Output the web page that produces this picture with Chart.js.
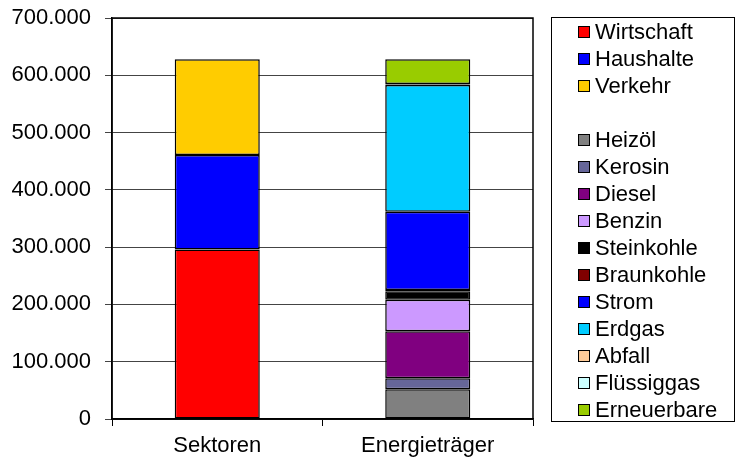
<!DOCTYPE html>
<html>
<head>
<meta charset="utf-8">
<script src="https://cdn.jsdelivr.net/npm/chart.js@4.4.1/dist/chart.umd.min.js"></script>
<style>
  body { margin: 0; background: #fff; }
  #wrap { position: relative; width: 736px; height: 462px; }
  #legend {
    position: absolute; left: 551px; top: 17px; width: 184px; height: 405px;
    border: 1px solid #000; box-sizing: border-box;
    font-family: "Liberation Sans", Arial, sans-serif; font-size: 22px; color: #000;
  }
  .row { position: absolute; left: 0; height: 27px; display: flex; align-items: center; }
  .sw { width: 10px; height: 10px; border: 1.5px solid #000; margin-left: 26px; margin-right: 5px; }
</style>
</head>
<body>
<div id="wrap">
  <canvas id="chart" width="736" height="462"></canvas>
  <div id="legend"></div>
</div>
<script>
var categories = ["Sektoren", "Energieträger"]

var sectorLabels = ["Wirtschaft", "Haushalte", "Verkehr"]
var sectorValues = [296000, 165000, 167000]
var sectorColors = ["#ff0000", "#0000ff", "#ffcc00"]

var carrierLabels = ["Heizöl", "Kerosin", "Diesel", "Benzin", "Steinkohle", "Braunkohle",
                     "Strom", "Erdgas", "Abfall", "Flüssiggas", "Erneuerbare"]
var carrierValues = [52000, 19000, 82000, 55000, 15000, 2000, 137000, 221000, 1000, 1000, 43000]
var carrierColors = ["#808080", "#666699", "#800080", "#cc99ff", "#000000", "#800000",
                     "#0000ff", "#00ccff", "#ffcc99", "#ccffff", "#99cc00"]

var yTicks = [0, 100000, 200000, 300000, 400000, 500000, 600000, 700000]

var datasets = []
for (var i = 0; i < sectorLabels.length; i++) {
    datasets.push({ label: sectorLabels[i], data: [sectorValues[i], null], backgroundColor: sectorColors[i] })
}
for (var j = 0; j < carrierLabels.length; j++) {
    datasets.push({ label: carrierLabels[j], data: [null, carrierValues[j]], backgroundColor: carrierColors[j] })
}
datasets.forEach(function (d) {
    d.borderColor = "#000"
    d.borderWidth = 1.5
    d.borderSkipped = false
})

function formatDe(v) {
    return String(v).replace(/\B(?=(\d{3})+(?!\d))/g, ".")
}

// frame round the plot area
var frame = {
    id: "frame",
    afterDraw: function (chart) {
        var a = chart.chartArea, ctx = chart.ctx
        ctx.save()
        ctx.strokeStyle = "#000"
        ctx.lineWidth = 1.5
        ctx.strokeRect(a.left, a.top, a.right - a.left, a.bottom - a.top)
        ctx.restore()
    }
}

var font = { family: "'Liberation Sans', Arial, sans-serif", size: 22 }

new Chart("chart", {
    type: "bar",
    data: { labels: categories, datasets: datasets },
    options: {
        responsive: false,
        animation: false,
        layout: { padding: { top: 18, right: 203, left: 0, bottom: 0 } },
        datasets: { bar: { categoryPercentage: 1, barPercentage: 0.404 } },
        plugins: { legend: { display: false }, tooltip: { enabled: false } },
        scales: {
            x: {
                stacked: true,
                afterFit: function (s) { s.height = 43; s.paddingLeft = 0; s.paddingRight = 0 },
                grid: { offset: true, drawOnChartArea: false, color: "#000", tickLength: 7 },
                border: { color: "#000", width: 1.5 },
                ticks: { color: "#000", font: font, padding: 7 }
            },
            y: {
                stacked: true,
                min: 0, max: 700000,
                afterFit: function (s) { s.width = 112; s.paddingTop = 0; s.paddingBottom = 0 },
                afterBuildTicks: function (s) { s.ticks = yTicks.map(function (v) { return { value: v } }) },
                grid: { color: "#444", lineWidth: 1, tickLength: 7 },
                border: { color: "#000", width: 1.5 },
                ticks: { color: "#000", font: font, padding: 14, callback: function (v) { return formatDe(v) } }
            }
        }
    },
    plugins: [frame]
})

// legend: sectors, blank row, energy carriers
var legendItems = []
sectorLabels.forEach(function (l, i) { legendItems.push([l, sectorColors[i]]) })
legendItems.push(null)
carrierLabels.forEach(function (l, i) { legendItems.push([l, carrierColors[i]]) })

var legend = document.getElementById("legend")
legendItems.forEach(function (item, k) {
    if (!item) return
    var row = document.createElement("div")
    row.className = "row"
    row.style.top = (27 * k) + "px"
    var sw = document.createElement("span")
    sw.className = "sw"
    sw.style.background = item[1]
    var tx = document.createElement("span")
    tx.textContent = item[0]
    row.appendChild(sw)
    row.appendChild(tx)
    legend.appendChild(row)
})
</script>
</body>
</html>
